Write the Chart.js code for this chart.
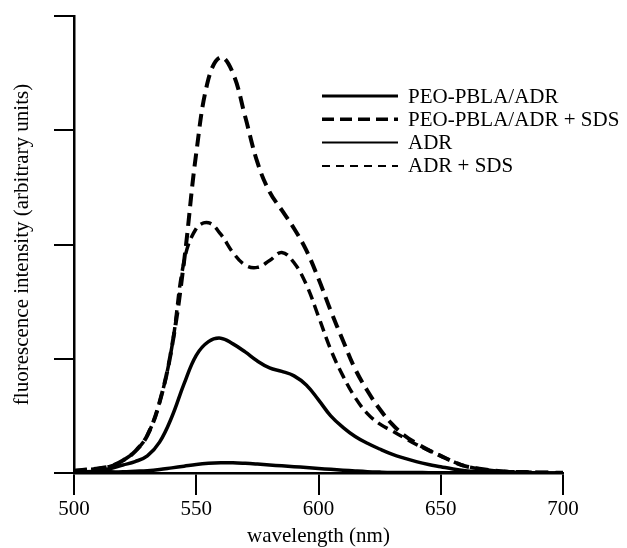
<!DOCTYPE html>
<html>
<head>
<meta charset="utf-8">
<script src="https://cdn.jsdelivr.net/npm/chart.js@4/dist/chart.umd.min.js"></script>
<style>
  body { margin: 0; background: #fff; }
  #wrap { width: 627px; height: 548px; }
</style>
</head>
<body>
<div id="wrap"><canvas id="chart" width="627" height="548"></canvas></div>
<script>
// wavelength grid (nm), 5 nm steps
var wavelengths = [500, 505, 510, 515, 520, 525, 530, 535, 540, 545,
    550, 555, 560, 565, 570, 575, 580, 585, 590, 595,
    600, 605, 610, 615, 620, 625, 630, 635, 640, 645,
    650, 655, 660, 665, 670, 675, 680, 685, 690, 695, 700];

// intensities (arbitrary units)
var peoPblaAdr = [0.01, 0.01, 0.01, 0.01, 0.01, 0.015, 0.02, 0.03, 0.045, 0.06,
    0.075, 0.085, 0.09, 0.09, 0.085, 0.078, 0.07, 0.063, 0.055, 0.048,
    0.04, 0.032, 0.025, 0.018, 0.012, 0.008, 0.005, 0.004, 0.004, 0.003,
    0.003, 0.002, 0.002, 0.002, 0.001, 0.001, 0.001, 0.001, 0, 0, 0];
var peoPblaAdrSds = [0.02, 0.03, 0.04, 0.06, 0.11, 0.19, 0.33, 0.62, 1.1, 1.85,
    2.8, 3.45, 3.64, 3.5, 3.12, 2.72, 2.46, 2.3, 2.14, 1.95,
    1.7, 1.42, 1.16, 0.91, 0.72, 0.56, 0.43, 0.33, 0.26, 0.2,
    0.15, 0.1, 0.06, 0.04, 0.025, 0.015, 0.01, 0.008, 0.005, 0.003, 0.002];
var adr = [0.01, 0.01, 0.02, 0.04, 0.07, 0.1, 0.15, 0.27, 0.49, 0.78,
    1.03, 1.15, 1.18, 1.13, 1.06, 0.98, 0.92, 0.89, 0.85, 0.77,
    0.64, 0.5, 0.4, 0.32, 0.26, 0.21, 0.165, 0.13, 0.1, 0.075,
    0.055, 0.035, 0.02, 0.012, 0.008, 0.005, 0.004, 0.003, 0.002, 0.001, 0.001];
var adrSds = [0.02, 0.03, 0.04, 0.06, 0.11, 0.19, 0.33, 0.62, 1.1, 1.85,
    2.14, 2.19, 2.09, 1.93, 1.82, 1.8, 1.86, 1.93, 1.84, 1.65,
    1.37, 1.08, 0.85, 0.66, 0.52, 0.43, 0.37, 0.31, 0.25, 0.2,
    0.15, 0.1, 0.06, 0.04, 0.025, 0.015, 0.01, 0.008, 0.005, 0.003, 0.002];

var xTicks = [500, 550, 600, 650, 700];
var yTicks = [0, 1, 2, 3, 4];

var serif = '"Liberation Serif", "DejaVu Serif", serif';

function pts(values) {
    return wavelengths.map(function (w, i) { return { x: w, y: values[i] }; });
}

function series(label, values, width, dash, legendWidth, legendDash) {
    return {
        label: label,
        data: pts(values),
        borderColor: '#000',
        borderWidth: width,
        borderDash: dash,
        legendWidth: legendWidth,
        legendDash: legendDash,
        pointRadius: 0,
        fill: false,
        tension: 0.4
    };
}

// legend drawn inside the plot, like the figure
var insideLegend = {
    id: 'insideLegend',
    afterDraw: function (chart) {
        var ctx = chart.ctx;
        var x0 = 322, x1 = 398, tx = 408, y0 = 96, step = 23.3;
        ctx.save();
        ctx.font = '21px ' + serif;
        ctx.fillStyle = '#000';
        ctx.textBaseline = 'middle';
        chart.data.datasets.forEach(function (ds, i) {
            var y = y0 + i * step;
            ctx.beginPath();
            ctx.strokeStyle = '#000';
            ctx.lineWidth = ds.legendWidth;
            ctx.setLineDash(ds.legendDash);
            ctx.moveTo(x0, y);
            ctx.lineTo(x1, y);
            ctx.stroke();
            ctx.fillText(ds.label, tx, y + 1);
        });
        ctx.restore();
    }
};

var ctx = document.getElementById('chart').getContext('2d');
var chart = new Chart(ctx, {
    type: 'line',
    data: {
        datasets: [
            series('PEO-PBLA/ADR', peoPblaAdr, 3.5, [], 3.2, []),
            series('PEO-PBLA/ADR + SDS', peoPblaAdrSds, 4, [13, 7], 3.4, [12, 6]),
            series('ADR', adr, 3.5, [], 2, []),
            series('ADR + SDS', adrSds, 3.5, [11, 6], 2, [8, 6])
        ]
    },
    options: {
        responsive: false,
        animation: false,
        layout: { padding: { top: 16, right: 64, left: 0, bottom: 0 } },
        plugins: {
            legend: { display: false },
            tooltip: { enabled: false }
        },
        scales: {
            x: {
                type: 'linear',
                min: 500,
                max: 700,
                afterBuildTicks: function (scale) {
                    scale.ticks = xTicks.map(function (v) { return { value: v }; });
                },
                afterFit: function (scale) { scale.height = 75; },
                grid: { drawOnChartArea: false, drawTicks: true, tickLength: 22, color: '#000', lineWidth: 2 },
                border: { display: true, color: '#000', width: 2.5 },
                ticks: { color: '#000', padding: 2, font: { family: serif, size: 21 } },
                title: {
                    display: true,
                    text: 'wavelength (nm)',
                    color: '#000',
                    font: { family: serif, size: 21, lineHeight: 1 },
                    padding: { top: 0, bottom: 1 }
                }
            },
            y: {
                min: 0,
                max: 4,
                afterBuildTicks: function (scale) {
                    scale.ticks = yTicks.map(function (v) { return { value: v }; });
                },
                afterFit: function (scale) { scale.width = 74; },
                grid: { drawOnChartArea: false, drawTicks: true, tickLength: 20, color: '#000', lineWidth: 2 },
                border: { display: true, color: '#000', width: 2.5 },
                ticks: { display: false },
                title: {
                    display: true,
                    text: 'fluorescence intensity (arbitrary units)',
                    color: '#000',
                    font: { family: serif, size: 21, lineHeight: 1 },
                    padding: { top: 12, bottom: 0 }
                }
            }
        }
    },
    plugins: [insideLegend]
});
</script>
</body>
</html>
